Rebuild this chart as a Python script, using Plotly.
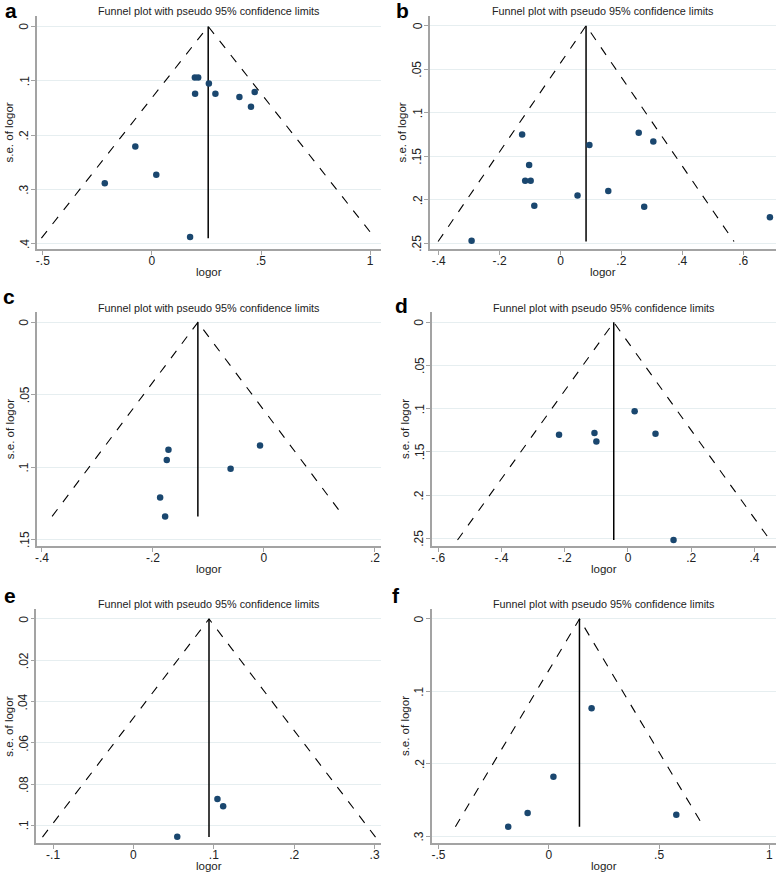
import plotly.graph_objects as go

W, H = 778, 872

# panel data: log odds ratio and its standard error, pooled estimate
a_logor = [0.197, 0.212, 0.261, 0.198, 0.291, 0.401, 0.471, 0.454, -0.076, 0.020, -0.216, 0.175]
a_se = [0.094, 0.094, 0.105, 0.124, 0.124, 0.130, 0.121, 0.148, 0.221, 0.273, 0.289, 0.388]
a_pooled, a_semax = 0.258, 0.390

b_logor = [-0.126, -0.103, -0.116, -0.098, -0.086, -0.292, 0.095, 0.056, 0.157, 0.257, 0.305, 0.275, 0.688]
b_se = [0.125, 0.160, 0.178, 0.178, 0.207, 0.247, 0.137, 0.195, 0.190, 0.123, 0.133, 0.208, 0.220]
b_pooled, b_semax = 0.084, 0.248

c_logor = [-0.172, -0.175, -0.187, -0.178, -0.060, -0.007]
c_se = [0.088, 0.095, 0.121, 0.134, 0.101, 0.085]
c_pooled, c_semax = -0.119, 0.134

d_logor = [-0.218, -0.106, -0.100, 0.021, 0.087, 0.144]
d_se = [0.130, 0.128, 0.138, 0.103, 0.129, 0.252]
d_pooled, d_semax = -0.045, 0.252

e_logor = [0.1045, 0.1116, 0.0545]
e_se = [0.0872, 0.0908, 0.1055]
e_pooled, e_semax = 0.094, 0.1057

f_logor = [0.194, 0.021, -0.096, -0.184, 0.578]
f_se = [0.1235, 0.218, 0.268, 0.287, 0.2705]
f_pooled, f_semax = 0.139, 0.287

# tick labels
a_xticks, a_xtext = [-0.5, 0, 0.5, 1], ["-.5", "0", ".5", "1"]
a_yticks, a_ytext = [0, 0.1, 0.2, 0.3, 0.4], ["0", ".1", ".2", ".3", ".4"]
b_xticks, b_xtext = [-0.4, -0.2, 0, 0.2, 0.4, 0.6], ["-.4", "-.2", "0", ".2", ".4", ".6"]
b_yticks, b_ytext = [0, 0.05, 0.1, 0.15, 0.2, 0.25], ["0", ".05", ".1", ".15", ".2", ".25"]
c_xticks, c_xtext = [-0.4, -0.2, 0, 0.2], ["-.4", "-.2", "0", ".2"]
c_yticks, c_ytext = [0, 0.05, 0.1, 0.15], ["0", ".05", ".1", ".15"]
d_xticks, d_xtext = [-0.6, -0.4, -0.2, 0, 0.2, 0.4], ["-.6", "-.4", "-.2", "0", ".2", ".4"]
d_yticks, d_ytext = [0, 0.05, 0.1, 0.15, 0.2, 0.25], ["0", ".05", ".1", ".15", ".2", ".25"]
e_xticks, e_xtext = [-0.1, 0, 0.1, 0.2, 0.3], ["-.1", "0", ".1", ".2", ".3"]
e_yticks, e_ytext = [0, 0.02, 0.04, 0.06, 0.08, 0.1], ["0", ".02", ".04", ".06", ".08", ".1"]
f_xticks, f_xtext = [-0.5, 0, 0.5, 1], ["-.5", "0", ".5", "1"]
f_yticks, f_ytext = [0, 0.1, 0.2, 0.3], ["0", ".1", ".2", ".3"]

panels = [
    ("a", a_logor, a_se, a_pooled, a_semax, a_xticks, a_xtext, a_yticks, a_ytext,
     [-0.527, 1.050], [0.4105, -0.0197], (35, 380), (15.7, 249.3)),
    ("b", b_logor, b_se, b_pooled, b_semax, b_xticks, b_xtext, b_yticks, b_ytext,
     [-0.429, 0.708], [0.2569, -0.0115], (429, 776), (15.7, 249.3)),
    ("c", c_logor, c_se, c_pooled, c_semax, c_xticks, c_xtext, c_yticks, c_ytext,
     [-0.409, 0.211], [0.1544, -0.0069], (35, 380), (312.3, 546)),
    ("d", d_logor, d_se, d_pooled, d_semax, d_xticks, d_xtext, d_yticks, d_ytext,
     [-0.620, 0.468], [0.2589, -0.0116], (431, 776), (312.3, 546)),
    ("e", e_logor, e_se, e_pooled, e_semax, e_xticks, e_xtext, e_yticks, e_ytext,
     [-0.1207, 0.308], [0.1087, -0.0048], (34.5, 380), (609, 843.3)),
    ("f", f_logor, f_se, f_pooled, f_semax, f_xticks, f_xtext, f_yticks, f_ytext,
     [-0.53, 1.03], [0.310, -0.0138], (431, 776), (609, 843.3)),
]

font = "Liberation Sans, Arial, sans-serif"
axis_col = "#a3a3a3"
dot_col = "#1a476f"
txt_col = "#222"

fig = go.Figure()
layout = {}
annotations = []

for i, (lab, lx, se, pooled, semax, xt, xtt, yt, ytt, xr, yr, (x0, x1), (y0, y1)) in enumerate(panels):
    n = "" if i == 0 else str(i + 1)
    xa, ya = "x" + n, "y" + n
    # pseudo 95% limits
    fig.add_trace(go.Scatter(
        x=[pooled - 1.96 * semax, pooled, pooled + 1.96 * semax],
        y=[semax, 0, semax], mode="lines",
        line=dict(color="black", width=1.1, dash="dash"),
        xaxis=xa, yaxis=ya, showlegend=False, hoverinfo="skip"))
    fig.add_trace(go.Scatter(
        x=[pooled, pooled], y=[0, semax], mode="lines",
        line=dict(color="black", width=1.5),
        xaxis=xa, yaxis=ya, showlegend=False, hoverinfo="skip"))
    fig.add_trace(go.Scatter(
        x=lx, y=se, mode="markers",
        marker=dict(color=dot_col, size=6.5),
        xaxis=xa, yaxis=ya, showlegend=False))

    layout["xaxis" + n] = dict(
        domain=[x0 / W, x1 / W], range=xr, anchor=ya,
        tickvals=xt, ticktext=xtt, showgrid=False, zeroline=False,
        showline=True, linecolor=axis_col, linewidth=1.5,
        ticks="outside", ticklen=4, tickcolor=axis_col, tickwidth=1,
        ticklabelstandoff=-4,
        tickfont=dict(family=font, size=12, color=txt_col))
    layout["yaxis" + n] = dict(
        domain=[1 - y1 / H, 1 - y0 / H], range=yr, anchor=xa,
        tickvals=yt, showticklabels=False, showgrid=True, gridcolor="#e6eef0", gridwidth=1,
        zeroline=False, showline=True, linecolor=axis_col, linewidth=1.5,
        ticks="outside", ticklen=4, tickcolor=axis_col, tickwidth=1)

    # rotated y tick labels, placed on the y axis scale
    for v, t in zip(yt, ytt):
        annotations.append(dict(
            text=t, x=(x0 - 12.5) / W, y=v, xref="paper", yref=ya, textangle=-90,
            showarrow=False, xanchor="center", yanchor="middle",
            font=dict(family=font, size=12, color=txt_col)))

    cx = (x0 + x1) / 2
    # title
    annotations.append(dict(
        text="Funnel plot with pseudo 95% confidence limits", x=cx / W, y=1 - (y0 - 4.7) / H,
        xref="paper", yref="paper", showarrow=False, xanchor="center", yanchor="middle",
        font=dict(family=font, size=10.8, color=txt_col)))
    # x title
    annotations.append(dict(
        text="logor", x=cx / W, y=1 - (y1 + 22.5) / H,
        xref="paper", yref="paper", showarrow=False, xanchor="center", yanchor="middle",
        font=dict(family=font, size=11.5, color=txt_col)))
    # y title
    annotations.append(dict(
        text="s.e. of logor", x=(x0 - 27) / W, y=1 - ((y0 + y1) / 2) / H, textangle=-90,
        xref="paper", yref="paper", showarrow=False, xanchor="center", yanchor="middle",
        font=dict(family=font, size=11.5, color=txt_col)))

# panel letters
letter_pos = {"a": (9, 11), "b": (402, 11), "c": (7, 297), "d": (401, 305), "e": (8, 595), "f": (395, 595)}
for lab, (px, py) in letter_pos.items():
    annotations.append(dict(
        text="<b>" + lab + "</b>", x=px / W, y=1 - py / H,
        xref="paper", yref="paper", showarrow=False, xanchor="center", yanchor="middle",
        font=dict(family=font, size=21, color="black")))

fig.update_layout(
    width=W, height=H,
    margin=dict(l=0, r=0, t=0, b=0),
    paper_bgcolor="white", plot_bgcolor="white",
    annotations=annotations,
    **layout)

# drop the default page margin so the figure sits at the window's corner
fig.write_html("out.html", config={"displayModeBar": False},
               post_script="document.body.style.margin='0';document.body.style.overflow='hidden';")
